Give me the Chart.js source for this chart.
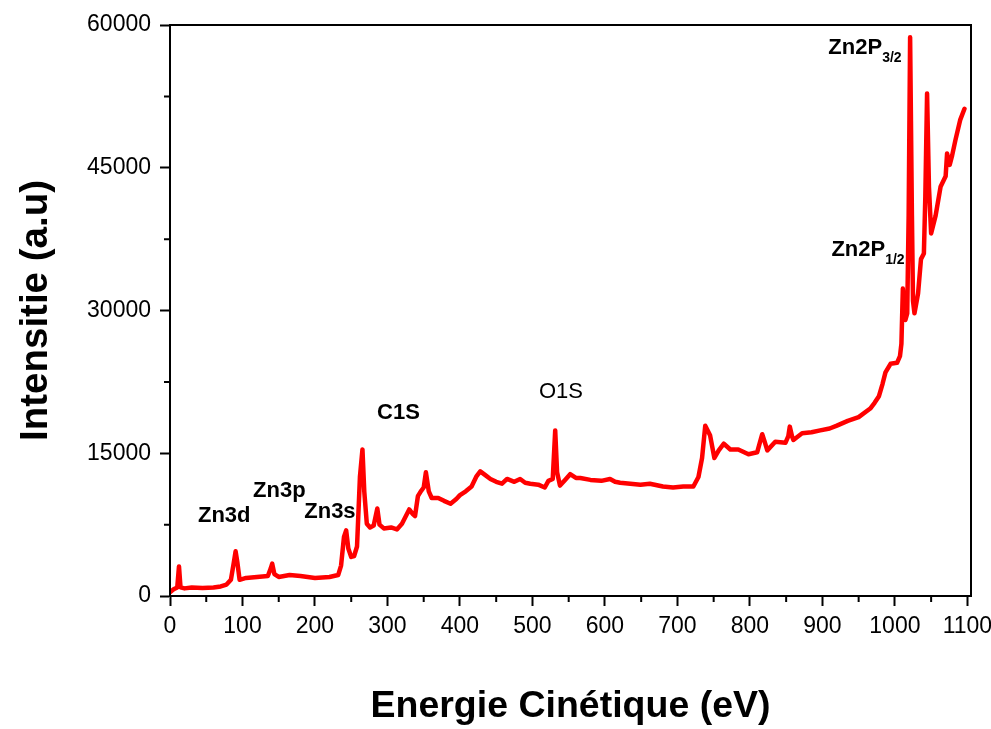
<!DOCTYPE html>
<html>
<head>
<meta charset="utf-8">
<title>Spectre XPS</title>
<script src="https://cdn.jsdelivr.net/npm/chart.js@4.4.1/dist/chart.umd.min.js"></script>
<style>
    body { margin: 0; background: #fff; }
    #wrap { width: 991px; height: 729px; }
</style>
</head>
<body>
<div id="wrap"><canvas id="xpsChart" width="991" height="729"></canvas></div>
<script>
// kinetic energy (eV) and measured intensity (a.u)
const energy = [
    0, 5, 10, 12.4, 14.5, 20, 30, 45, 60, 70, 78, 84, 88, 90.5, 93, 96, 105, 120, 135, 139,
    141, 144, 150, 165, 180, 200, 220, 232, 236, 240, 243, 246, 250, 254, 258, 262, 265.5, 268, 271.5, 276,
    281, 286, 289, 295, 305, 313, 320, 330, 335, 338, 342, 346, 350, 353, 357, 361, 370, 378, 387, 395,
    400, 408, 416, 423, 428, 435, 442, 450, 458, 465, 475, 483, 490, 497, 508, 517, 522, 528, 531.4, 534,
    538, 545, 552, 560, 566, 580, 595, 607, 614, 621, 635, 649, 662, 680, 694, 708, 722, 729, 734, 738.4,
    745, 751, 757, 764, 773, 784, 798, 810, 814, 817, 820, 824, 835, 849, 853, 855, 858, 860, 872, 885,
    897, 910, 920, 935, 950, 966, 972, 978, 983, 987, 994, 1003, 1007, 1009, 1011, 1014.5, 1017, 1019, 1021, 1023.5,
    1025, 1027, 1032, 1036, 1040, 1042, 1044.4, 1047, 1050, 1056, 1063, 1070, 1072, 1075.6, 1079, 1083.5, 1090, 1096
];
const intensity = [
    400, 700, 900, 3100, 900, 800, 900, 850, 900, 1000, 1200, 1700, 3500, 4700, 3500, 1700, 1900, 2000, 2100, 2900,
    3400, 2300, 2000, 2200, 2100, 1900, 2000, 2200, 3200, 6200, 6900, 5000, 4100, 4200, 5200, 12500, 15400, 11000, 7600, 7200,
    7400, 9200, 7500, 7100, 7200, 7000, 7600, 9100, 8600, 8400, 10500, 11000, 11400, 13000, 11000, 10300, 10300, 10000, 9700, 10200,
    10600, 11000, 11500, 12600, 13100, 12700, 12300, 12000, 11800, 12300, 12000, 12300, 11900, 11800, 11700, 11400, 12100, 12300, 17400, 13000,
    11600, 12200, 12800, 12400, 12400, 12200, 12100, 12300, 12000, 11900, 11800, 11700, 11800, 11500, 11400, 11500, 11500, 12500, 14500, 17900,
    16900, 14500, 15300, 16000, 15400, 15400, 14900, 15100, 16200, 17000, 16300, 15300, 16200, 16100, 16800, 17800, 16800, 16400, 17100, 17200,
    17400, 17600, 17900, 18400, 18800, 19700, 20300, 21000, 22300, 23500, 24400, 24500, 25200, 26500, 32300, 29000, 29700, 40000, 58700, 40000,
    31000, 29700, 31800, 35400, 36000, 42000, 52800, 43000, 38100, 39900, 43000, 44100, 46500, 45300, 46300, 47900, 50000, 51200
];

// peak names, with optional subscript, anchored in data units (left edge, middle of text)
const peakNames = ['Zn3d', 'Zn3p', 'Zn3s', 'C1S', 'O1S', 'Zn2P', 'Zn2P'];
const peakSubs = ['', '', '', '', '', '3/2', '1/2'];
const peakBold = [true, true, true, true, false, true, true];
const peakAt = [[38.6, 8400], [114.6, 11030], [185.2, 8830], [285.7, 19230], [509, 21440], [908.2, 57580], [912.4, 36360]];

const xMax = 1105;
const xTicks = [0, 100, 200, 300, 400, 500, 600, 700, 800, 900, 1000, 1100];
const yTicks = [0, 15000, 30000, 45000, 60000];

const FONT = '"Liberation Sans", Arial, sans-serif';

// short ticks between the labelled ones, plus the closed frame
const minorTicks = {
    id: 'minorTicks',
    afterDraw(chart) {
        const { ctx, chartArea, scales } = chart;
        ctx.save();
        ctx.strokeStyle = '#000';
        ctx.lineWidth = 2;
        ctx.beginPath();
        for (let v = 50; v < xMax; v += 100) {
            const px = scales.x.getPixelForValue(v);
            ctx.moveTo(px, chartArea.bottom);
            ctx.lineTo(px, chartArea.bottom + 6);
        }
        for (let v = 7500; v < 60000; v += 15000) {
            const py = scales.y.getPixelForValue(v);
            ctx.moveTo(chartArea.left, py);
            ctx.lineTo(chartArea.left - 6, py);
        }
        ctx.stroke();
        ctx.strokeRect(chartArea.left, chartArea.top, chartArea.right - chartArea.left, chartArea.bottom - chartArea.top);
        ctx.restore();
    }
};

// peak labels
const peakText = {
    id: 'peakText',
    afterDatasetsDraw(chart) {
        const { ctx, scales } = chart;
        ctx.save();
        ctx.fillStyle = '#000';
        ctx.textBaseline = 'middle';
        ctx.textAlign = 'left';
        peakNames.forEach((name, i) => {
            const px = scales.x.getPixelForValue(peakAt[i][0]);
            const py = scales.y.getPixelForValue(peakAt[i][1]);
            ctx.font = (peakBold[i] ? 'bold ' : '') + '22px ' + FONT;
            ctx.fillText(name, px, py);
            if (peakSubs[i]) {
                const w = ctx.measureText(name).width;
                ctx.font = 'bold 14px ' + FONT;
                ctx.fillText(peakSubs[i], px + w, py + 10);
            }
        });
        ctx.restore();
    }
};

const ctx = document.getElementById('xpsChart').getContext('2d');
new Chart(ctx, {
    type: 'line',
    data: {
        datasets: [{
            data: energy.map((e, i) => ({ x: e, y: intensity[i] })),
            borderColor: '#ff0000',
            borderWidth: 4.5,
            pointRadius: 0,
            tension: 0,
            borderJoinStyle: 'round',
            borderCapStyle: 'round',
            fill: false
        }]
    },
    options: {
        responsive: false,
        animation: false,
        layout: { padding: { top: 25, right: 20, left: 0, bottom: 0 } },
        plugins: {
            legend: { display: false },
            tooltip: { enabled: false }
        },
        scales: {
            x: {
                type: 'linear',
                min: 0,
                max: xMax,
                afterFit(scale) {
                    scale.height = 133;
                    // let the last label run into the right margin
                    scale.paddingLeft = 0;
                    scale.paddingRight = 0;
                },
                afterBuildTicks(scale) { scale.ticks = xTicks.map(v => ({ value: v })); },
                border: { display: true, color: '#000', width: 2 },
                grid: {
                    drawOnChartArea: false,
                    tickLength: 10,
                    tickWidth: 2,
                    tickColor: '#000'
                },
                ticks: {
                    maxRotation: 0,
                    autoSkip: false,
                    padding: 7,
                    color: '#000',
                    font: { family: FONT, size: 23 },
                    callback: v => String(v)
                },
                title: {
                    display: true,
                    text: 'Energie Cinétique (eV)',
                    color: '#000',
                    padding: { top: 0, bottom: 0 },
                    font: { family: FONT, size: 37.5, weight: 'bold' }
                }
            },
            y: {
                min: 0,
                max: 60000,
                afterFit(scale) {
                    scale.width = 170;
                    scale.paddingTop = 0;
                    scale.paddingBottom = 0;
                },
                afterBuildTicks(scale) { scale.ticks = yTicks.map(v => ({ value: v })); },
                border: { display: true, color: '#000', width: 2 },
                grid: {
                    drawOnChartArea: false,
                    tickLength: 10,
                    tickWidth: 2,
                    tickColor: '#000'
                },
                ticks: {
                    padding: 9,
                    color: '#000',
                    font: { family: FONT, size: 23 },
                    callback: v => String(v)
                },
                title: {
                    display: true,
                    text: 'Intensitie (a.u)',
                    color: '#000',
                    padding: { top: 13, bottom: 0 },
                    font: { family: FONT, size: 38.5, weight: 'bold' }
                }
            }
        }
    },
    plugins: [minorTicks, peakText]
});
</script>
</body>
</html>
